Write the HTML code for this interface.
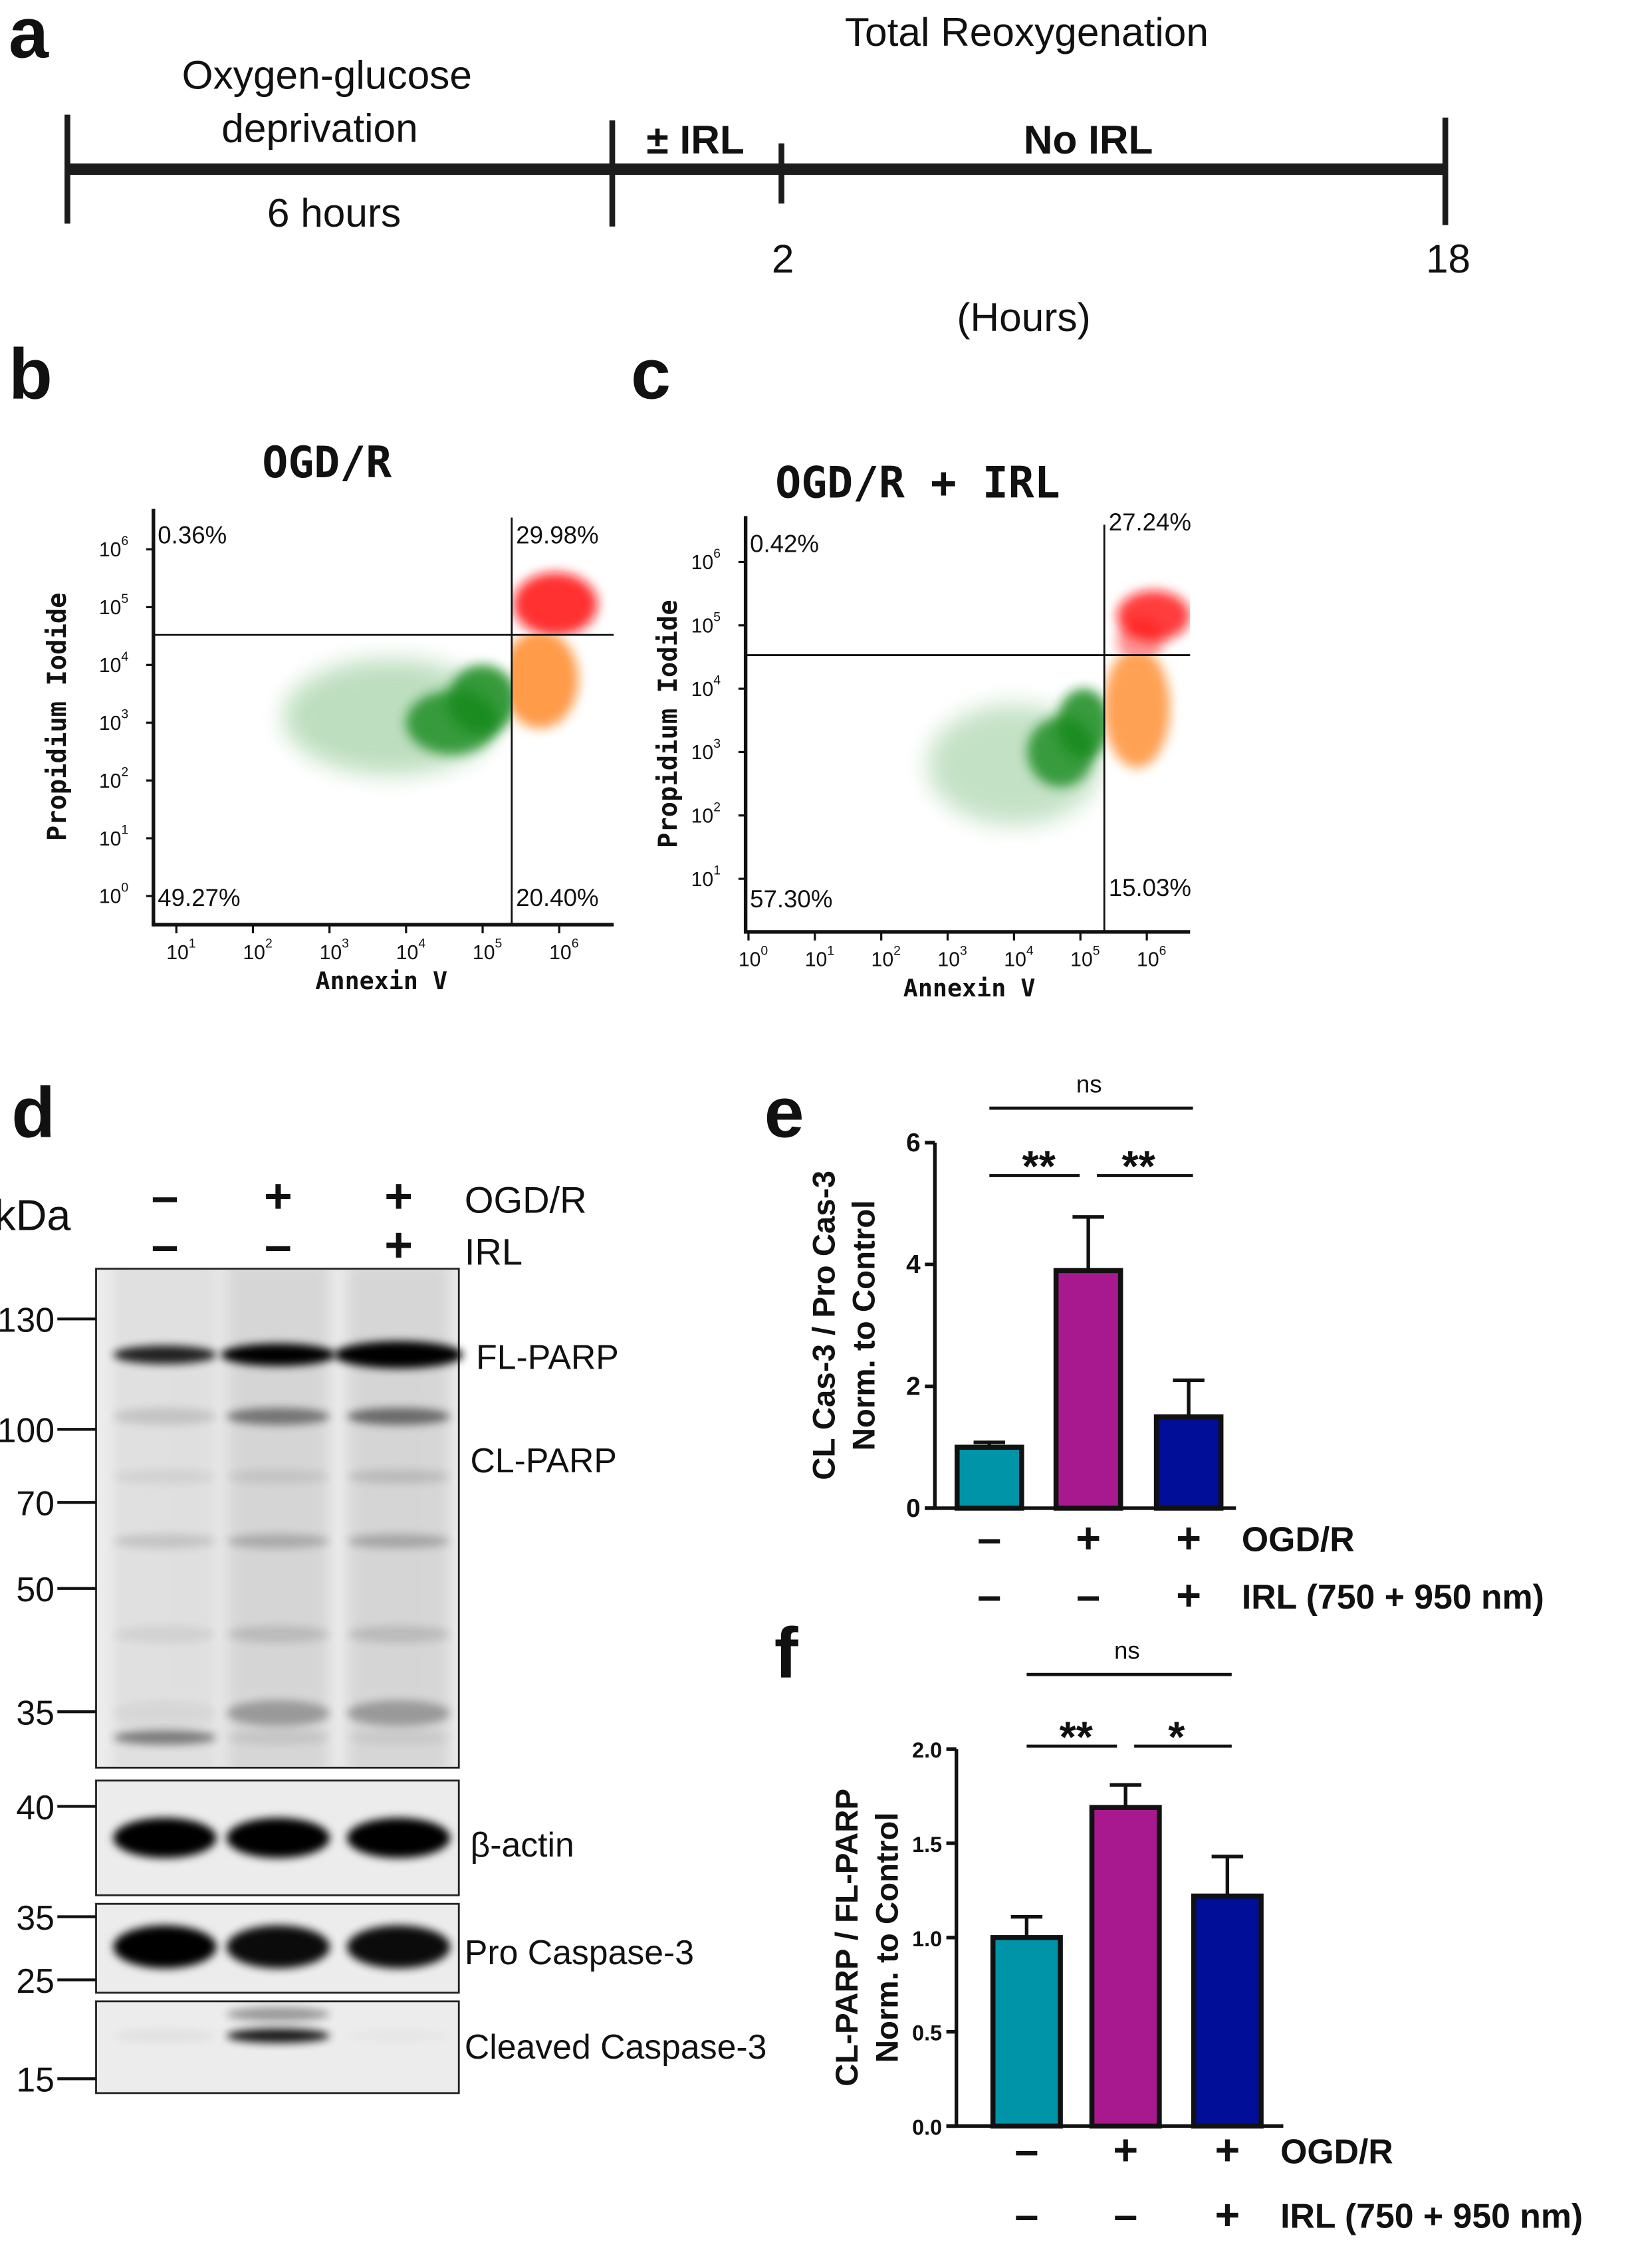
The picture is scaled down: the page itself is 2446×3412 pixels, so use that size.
<!DOCTYPE html>
<html><head><meta charset="utf-8"><style>
html,body{margin:0;padding:0;background:#fff;}
svg{display:block;}
text{font-family:"Liberation Sans",sans-serif;fill:#111;}
.mono{font-family:"DejaVu Sans Mono","Liberation Mono",monospace;font-weight:bold;}
.b{font-weight:bold;}
</style></head><body>
<svg id="fig" width="2446" height="3412" viewBox="0 0 1134 1582" preserveAspectRatio="none" xmlns="http://www.w3.org/2000/svg">
<defs>
<filter id="blur2" x="-50%" y="-50%" width="200%" height="200%"><feGaussianBlur stdDeviation="4"/></filter>
<filter id="blur5" x="-50%" y="-50%" width="200%" height="200%"><feGaussianBlur stdDeviation="8"/></filter>
<filter id="blurB" x="-50%" y="-50%" width="200%" height="200%"><feGaussianBlur stdDeviation="3"/></filter>
<filter id="blurL" x="-50%" y="-50%" width="200%" height="200%"><feGaussianBlur stdDeviation="5"/></filter>
</defs>

<g>
<text x="6" y="40" font-size="50" class="b">a</text>
<text x="716" y="32" font-size="28" text-anchor="middle">Total Reoxygenation</text>
<text x="228" y="62" font-size="28" text-anchor="middle">Oxygen-glucose</text>
<text x="223" y="99" font-size="28" text-anchor="middle">deprivation</text>
<text x="233" y="158" font-size="28" text-anchor="middle">6 hours</text>
<text x="485" y="107" font-size="28" class="b" text-anchor="middle">± IRL</text>
<text x="759" y="107" font-size="28" class="b" text-anchor="middle">No IRL</text>
<text x="546" y="190" font-size="28" text-anchor="middle">2</text>
<text x="1010" y="190" font-size="28" text-anchor="middle">18</text>
<text x="714" y="231" font-size="28" text-anchor="middle">(Hours)</text>
<rect x="47" y="114" width="962" height="8" fill="#1c1c1c"/>
<rect x="45" y="80" width="4" height="76" fill="#1c1c1c"/>
<rect x="425" y="84" width="4" height="74" fill="#1c1c1c"/>
<rect x="543" y="100" width="4" height="42" fill="#1c1c1c"/>
<rect x="1006" y="82" width="4" height="75" fill="#1c1c1c"/>
</g>

<text x="6" y="278" font-size="50" class="b">b</text>
<text x="440" y="278" font-size="50" class="b">c</text>
<text x="228" y="333" font-size="30" class="mono" text-anchor="middle">OGD/R</text>
<text x="640" y="347" font-size="30" class="mono" text-anchor="middle">OGD/R + IRL</text>
<g id="flowB"></g>
<g id="flowC"></g>

<text x="8" y="793" font-size="50" class="b">d</text>
<text x="-4" y="858" font-size="30">kDa</text>
<g id="blot"></g>

<text x="533" y="793" font-size="50" class="b">e</text>
<g id="chartE"></g>
<text x="540" y="1170" font-size="50" class="b">f</text>
<g id="chartF"></g>
</svg>
<script>
const NS="http://www.w3.org/2000/svg";
function mk(tag,attrs,parent,txt){const e=document.createElementNS(NS,tag);for(const k in attrs)e.setAttribute(k,attrs[k]);if(txt!==undefined)e.textContent=txt;parent.appendChild(e);return e;}

const flowBQuadLabels=["0.36%","29.98%","49.27%","20.40%"];
const flowCQuadLabels=["0.42%","27.24%","57.30%","15.03%"];
const flowBXTicks=[1,2,3,4,5,6];
const flowBYTicks=[0,1,2,3,4,5,6];
const flowCXTicks=[0,1,2,3,4,5,6];
const flowCYTicks=[1,2,3,4,5,6];
// clusters: [xLog, yLog, rxLog, ryLog, colorIdx, opacity]
const flowBClusters=[[3.8,3.1,1.4,1.0,0,0.28],[4.6,3.0,0.6,0.55,0,0.8],[5.0,3.4,0.45,0.6,0,0.85],[5.75,3.75,0.5,0.85,1,0.75],[5.95,5.05,0.55,0.55,2,0.85]];
const flowCClusters=[[4.0,2.8,1.3,0.95,0,0.25],[4.7,3.0,0.5,0.55,0,0.8],[5.05,3.45,0.4,0.55,0,0.85],[5.85,3.7,0.5,0.95,1,0.7],[6.1,5.15,0.55,0.4,2,0.8],[5.9,4.75,0.35,0.35,2,0.45]];
const flowColors=["#138a1c","#ff7a10","#ff1010"];
const flowBGate=[5.38,4.52];
const flowCGate=[5.36,4.53];

function flowPlot(g,opt){
  const X=v=>opt.x0+(v-opt.xd0)*opt.xs, Y=v=>opt.y0-(v-opt.yd0)*opt.ys;
  const L=opt.left,R=opt.right,T=opt.top,B=opt.bottom;
  const gx=X(opt.gate[0]), gy=Y(opt.gate[1]);
  const cid=opt.id;
  const defs=mk('defs',{},g);
  const quads=[[L,T,gx-L,gy-T],[gx,T,R-gx,gy-T],[L,gy,gx-L,B-gy],[gx,gy,R-gx,B-gy]];
  quads.forEach((q,i)=>{const cp=mk('clipPath',{id:cid+'q'+i},defs);mk('rect',{x:q[0],y:q[1],width:q[2],height:q[3]},cp);});
  const cpAll=mk('clipPath',{id:cid+'all'},defs);mk('rect',{x:L,y:T,width:R-L,height:B-T},cpAll);
  const dots=mk('g',{'clip-path':'url(#'+cid+'all)'},g);
  
  
  opt.clusters.forEach(c=>{
    let clip;
    if(c[4]===0) clip=2; else if(c[4]===1) clip=3; else clip=1;
    const cg=mk('g',{'clip-path':'url(#'+cid+'q'+clip+')'},dots);
    const e=mk('ellipse',{cx:X(c[0]),cy:Y(c[1]),rx:c[2]*opt.xs,ry:c[3]*opt.ys,fill:flowColors[c[4]],opacity:c[5],filter:c[2]>1?'url(#blur5)':'url(#blur2)'},cg);
    
    
  });
  const ax=mk('path',{d:`M${L} ${T} V${B} H${R}`,stroke:'#111','stroke-width':2.5,fill:'none'},g);
  
  
  const ql=mk('path',{d:`M${gx} ${T+6} V${B} M${L} ${gy} H${R}`,stroke:'#111','stroke-width':1.3,fill:'none'},g);
  
  
  opt.xticks.forEach(t=>{
    const x=X(t);
    const tk=mk('line',{x1:x,y1:B,x2:x,y2:B+6,stroke:'#111','stroke-width':1.5},g);
    
    
    const tx=mk('text',{x:x-7,y:B+24,'font-size':14},g,'10');
    
    
    mk('tspan',{dy:-8,'font-size':9},tx,String(t));
  });
  opt.yticks.forEach(t=>{
    const y=Y(t);
    const tk=mk('line',{x1:L-5,y1:y,x2:L,y2:y,stroke:'#111','stroke-width':1.5},g);
    
    
    const tx=mk('text',{x:L-38,y:y+5,'font-size':14},g,'10');
    
    
    mk('tspan',{dy:-8,'font-size':9},tx,String(t));
  });
  const lp=[[L+3,opt.lt],[gx+3,opt.rt],[L+3,opt.lb],[gx+3,opt.rb]];
  opt.labels.forEach((s,i)=>{const t=mk('text',{x:lp[i][0],y:lp[i][1],'font-size':17},g,s);});
  const xt=mk('text',{x:opt.xtX,y:B+45,'font-size':17,'text-anchor':'middle',class:'mono'},g,'Annexin V');
  
  
  const yt=mk('text',{x:0,y:0,'font-size':18,'text-anchor':'middle',class:'mono',transform:`translate(${opt.ytX},${(T+B)/2}) rotate(-90)`},g,'Propidium Iodide');
  
  
}
flowPlot(document.getElementById('flowB'),{id:'fb',x0:123,xd0:1,xs:53.4,y0:625,yd0:0,ys:40.3,left:107,right:428,top:355,bottom:645,gate:flowBGate,clusters:flowBClusters,xticks:flowBXTicks,yticks:flowBYTicks,labels:flowBQuadLabels,lt:379,rt:379,lb:632,rb:632,xtX:266,ytX:46});
flowPlot(document.getElementById('flowC'),{id:'fc',x0:522,xd0:0,xs:46.3,y0:613,yd0:1,ys:44.2,left:520,right:830,top:360,bottom:650,gate:flowCGate,clusters:flowCClusters,xticks:flowCXTicks,yticks:flowCYTicks,labels:flowCQuadLabels,lt:385,rt:370,lb:633,rb:625,xtX:676,ytX:472});

const blotLanes=[115,194,278];
const blotOGD=["–","+","+"];
const blotIRL=["–","–","+"];
const parpBands=[[945,13,[0.85,1.0,1.0]],[988,12,[0.12,0.45,0.5]],[1030,10,[0.06,0.08,0.12]],[1075,10,[0.12,0.2,0.22]],[1140,12,[0.06,0.12,0.12]],[1195,18,[0.04,0.28,0.28]],[1212,10,[0.45,0.08,0.06]]];
const parpWidthBoost=[[0,4,9],[0,0,0],[0,0,0],[0,0,0],[0,0,0],[0,0,0],[0,0,0]];
const laneSmear=[0.05,0.09,0.09];
const actinBand=[1282,28,[1,1,1]];
const procasBand=[1358,30,[1,0.95,0.95]];
const clcasBands=[[1420,10,[0.04,0.9,0.02]],[1405,10,[0,0.35,0]]];
const markers=[["130",920],["100",997],["70",1048],["50",1108],["35",1194],["40",1260],["35",1337],["25",1381],["15",1450]];
const blotBoxes=[[885,1233],[1242,1322],[1328,1390],[1396,1460]];
const blotLabels=[["FL-PARP",332,955],["CL-PARP",328,1027],["β-actin",328,1295],["Pro Caspase-3",324,1370],["Cleaved Caspase-3",324,1436]];

(function(){
  const g=document.getElementById('blot');
  blotLanes.forEach((x,i)=>{
    const a=mk('text',{x:x,y:846,'font-size':34,class:'b','text-anchor':'middle'},g,blotOGD[i]);
    
    
    const b=mk('text',{x:x,y:880,'font-size':34,class:'b','text-anchor':'middle'},g,blotIRL[i]);
    
    
  });
  const o=mk('text',{x:324,y:846,'font-size':26},g,'OGD/R');
  const r=mk('text',{x:324,y:882,'font-size':26},g,'IRL');
  blotBoxes.forEach(b=>{
    const rc=mk('rect',{x:67,y:b[0],width:253,height:b[1]-b[0],fill:'#ececec',stroke:'#222','stroke-width':1.3},g);
    
    
  });
  const cp=mk('clipPath',{id:'mainblot'},g);mk('rect',{x:68,y:886,width:251,height:346},cp);
  const sm=mk('g',{'clip-path':'url(#mainblot)'},g);
  blotLanes.forEach((x,i)=>{
    const s=mk('rect',{x:x-36,y:880,width:72,height:360,fill:'#000',opacity:laneSmear[i],filter:'url(#blurL)'},sm);
    
    
  });
  function band(y,h,vals,boost){
    blotLanes.forEach((x,i)=>{
      if(vals[i]<=0)return;
      const w=36+(boost?boost[i]:0);
      const e=mk('ellipse',{cx:x,cy:y,rx:w,ry:h/2+(boost?boost[i]/3:0),fill:'#000',opacity:vals[i],filter:'url(#blurB)'},g);
      
      
    });
  }
  parpBands.forEach((b,i)=>band(b[0],b[1],b[2],parpWidthBoost[i]));
  band(actinBand[0],actinBand[1],actinBand[2]);
  band(procasBand[0],procasBand[1],procasBand[2]);
  clcasBands.forEach(b=>band(b[0],b[1],b[2]));
  markers.forEach(m=>{
    const l=mk('line',{x1:40,y1:m[1],x2:67,y2:m[1],stroke:'#111','stroke-width':2},g);
    
    
    const t=mk('text',{x:38,y:m[1]+9,'font-size':24,'text-anchor':'end'},g,m[0]);
    
    
  });
  blotLabels.forEach(l=>{
    const t=mk('text',{x:l[1],y:l[2],'font-size':24},g,l[0]);
    
    
  });
})();

const groups=["Control","OGD/R","OGD/R+IRL"];
const barColors=["#0094a9","#a8198f","#000e98"];
const ogdSigns=["–","+","+"];
const irlSigns=["–","–","+"];
const cas3Values=[1.0,3.9,1.5];
const cas3Errors=[0.08,0.88,0.6];
const cas3Ticks=[0,2,4,6];
const cas3TickLabels=["0","2","4","6"];
const parpValues=[1.0,1.69,1.22];
const parpErrors=[0.11,0.12,0.21];
const parpTicks=[0,0.5,1.0,1.5,2.0];
const parpTickLabels=["0.0","0.5","1.0","1.5","2.0"];

function barChart(g,o){
  const Y=v=>o.y0-(v-o.ymin)/(o.ymax-o.ymin)*(o.y0-o.ytop);
  const ax=mk('path',{d:`M${o.ax} ${o.ytop} V${o.y0} M${o.ax-7} ${o.y0} H${o.xend}`,stroke:'#111','stroke-width':2.5,fill:'none'},g);
  
  
  o.ticks.forEach((t,i)=>{
    const y=Y(t);
    const l=mk('line',{x1:o.ax-7,y1:y,x2:o.ax,y2:y,stroke:'#111','stroke-width':2.5},g);
    
    
    const tx=mk('text',{x:o.ax-10,y:y+6,'font-size':o.tickFs,class:'b','text-anchor':'end'},g,o.tickLabels[i]);
    
    
  });
  o.values.forEach((v,i)=>{
    const cx=o.cx[i],w=o.bw,yt=Y(v),ye=Y(v+o.errors[i]);
    const el=mk('path',{d:`M${cx} ${yt} V${ye} M${cx-11} ${ye} H${cx+11}`,stroke:'#111','stroke-width':2.5,fill:'none'},g);
    
    
    const r=mk('rect',{x:cx-w/2,y:yt,width:w,height:o.y0-yt,fill:barColors[i],stroke:'#111','stroke-width':3.5},g);
    
    
    const s1=mk('text',{x:cx,y:o.row1+10,'font-size':30,class:'b','text-anchor':'middle'},g,ogdSigns[i]);
    
    
    const s2=mk('text',{x:cx,y:o.row2+10,'font-size':30,class:'b','text-anchor':'middle'},g,irlSigns[i]);
    
    
  });
  const t1=mk('text',{x:o.lblX,y:o.row1+9,'font-size':24,class:'b'},g,'OGD/R');
  
  
  const t2=mk('text',{x:o.lblX,y:o.row2+9,'font-size':24,class:'b'},g,'IRL (750 + 950 nm)');
  
  
  const sg=mk('path',{d:`M${o.cx[0]} ${o.nsY} H${o.cx[2]+3} M${o.cx[0]} ${o.sigY} H${o.cx[1]-6} M${o.cx[1]+6} ${o.sigY} H${o.cx[2]+3}`,stroke:'#111','stroke-width':2.2,fill:'none'},g);
  
  
  const ns=mk('text',{x:(o.cx[0]+o.cx[2])/2,y:o.nsY-11,'font-size':17,'text-anchor':'middle'},g,'ns');
  
  
  o.stars.forEach((s,i)=>{
    const t=mk('text',{x:(o.cx[i]+o.cx[i+1])/2,y:o.sigY+4,'font-size':30,class:'b','text-anchor':'middle'},g,s);
    
    
  });
  const yc=(o.ytop+o.y0)/2;
  const a=mk('text',{x:0,y:0,'font-size':22,class:'b','text-anchor':'middle',transform:`translate(${o.yl1},${yc}) rotate(-90)`},g,o.title1);
  
  
  const b=mk('text',{x:0,y:0,'font-size':22,class:'b','text-anchor':'middle',transform:`translate(${o.yl2},${yc}) rotate(-90)`},g,'Norm. to Control');
  
  
}
barChart(document.getElementById('chartE'),{ax:652,ytop:797,y0:1052,ymin:0,ymax:6,xend:862,ticks:cas3Ticks,tickLabels:cas3TickLabels,tickFs:18,values:cas3Values,errors:cas3Errors,cx:[690,759,829],bw:45,row1:1073,row2:1113,lblX:866,nsY:773,sigY:820,stars:["**","**"],yl1:582,yl2:610,title1:"CL Cas-3 / Pro Cas-3"});
barChart(document.getElementById('chartF'),{ax:667,ytop:1220,y0:1483,ymin:0,ymax:2,xend:895,ticks:parpTicks,tickLabels:parpTickLabels,tickFs:15,values:parpValues,errors:parpErrors,cx:[716,785,856],bw:47,row1:1500,row2:1545,lblX:893,nsY:1168,sigY:1218,stars:["**","*"],yl1:598,yl2:626,title1:"CL-PARP / FL-PARP"});
</script>
</body></html>
